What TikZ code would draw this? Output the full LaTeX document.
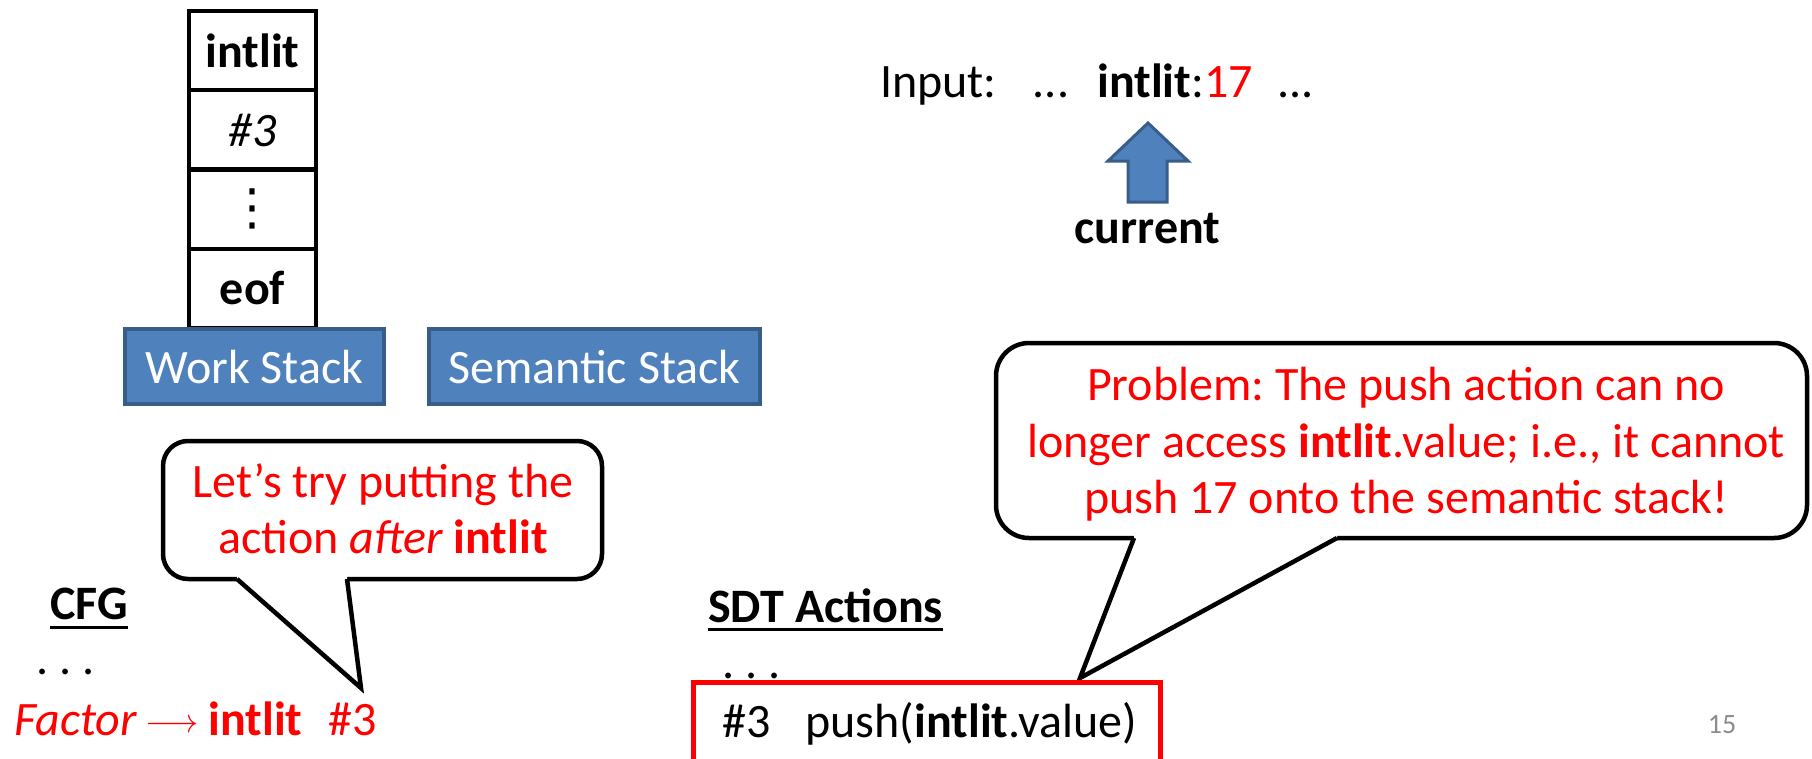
\documentclass[tikz,border=0pt]{standalone}
\usepackage{fontspec}
\setmainfont{Carlito}
\newfontfamily\dejavu{DejaVu Sans}
\definecolor{boxblue}{HTML}{4F81BD}
\definecolor{boxedge}{HTML}{385D8A}
\definecolor{slidered}{HTML}{FF0000}
\definecolor{pagegray}{HTML}{8C8C8C}
\frenchspacing
\tikzset{
  big/.style={font=\fontsize{48}{57}\selectfont, inner sep=0pt},
  cell/.style={big, draw=black, line width=4pt, minimum width=127pt, minimum height=79.25pt,
    text height=33pt, text depth=0pt},
  bluebox/.style={big, draw=boxedge, fill=boxblue, line width=4pt, text=white,
    minimum height=75pt, text height=33pt, text depth=0pt},
  callout/.style={draw=black, fill=white, line width=4.5pt},
  tailline/.style={draw=black, line width=4.5pt, line join=miter},
  redtext/.style={big, text=slidered, anchor=base},
  uline/.style={line width=3pt}
}
\newcommand{\longarr}{\raisebox{3pt}{\scalebox{3.3}[3.4]{\fontsize{10}{12}\selectfont$\longrightarrow$}}}
\begin{document}
\begin{tikzpicture}[x=1pt,y=-1pt]
\useasboundingbox (0,0) rectangle (1812,758);
\fill[white] (0,0) rectangle (1812,758);

% work stack cells
\node[cell] (c1) at (252.5,50.6) {\textbf{intlit}};
\node[cell] (c2) at (252.5,129.9) {\textit{\#3}};
\node[cell] (c3) at (252.5,209.1) {};
\node[inner sep=0pt, font=\dejavu\fontsize{50}{52}\selectfont] (vd) at (c3.center) {⋮};
\node[cell] (c4) at (252.5,288.4) {\textbf{eof}};

% stack labels
\node[bluebox, minimum width=259pt] (ws) at (254.5,366.5) {Work Stack};
\node[bluebox, minimum width=331pt] (ss) at (594.5,366.5) {Semantic Stack};

% input
\node[big, anchor=base west] (input) at (880,97)
  {Input:\hspace{36pt}...\hspace{28pt}\textbf{intlit}:\textcolor{slidered}{17}\hspace{25pt}...};
\node[big, anchor=base] (current) at (1147.5,243) {\textbf{current}};
\draw[fill=boxblue, draw=boxedge, line width=3pt, line join=miter]
  (1148,123) -- (1188,161) -- (1167,161) -- (1167,202) -- (1128,202) -- (1128,161) -- (1108,161) -- cycle;

% left callout
\draw[callout, rounded corners=25pt] (163,441) rectangle (602,579);
\fill[white] (237,574) -- (237,579) -- (361,688) -- (347,579) -- (347,574) -- cycle;
\coordinate (ltip) at (361,688);
\draw[tailline] (237,579) -- (ltip) -- (347,579);
\node[redtext] (l1) at (383,497) {Let’s try putting the};
\node[redtext] (l2) at (383,553) {action \textit{after} \textbf{intlit}};

% right callout
\draw[callout, rounded corners=33pt] (996,343) rectangle (1807,538);
\fill[white] (1134,533) -- (1134,538) -- (1080,678) -- (1337,538) -- (1337,533) -- cycle;
\coordinate (rtip) at (1080,678);
\draw[tailline] (1134,538) -- (rtip) -- (1337,538);
\node[redtext] (r1) at (1406,400) {Problem: The push action can no};
\node[redtext] (r2) at (1406,457) {longer access \textbf{intlit}.value; i.e., it cannot};
\node[redtext] (r3) at (1406,513) {push 17 onto the semantic stack!};

% CFG
\node[big, anchor=base west] (cfg) at (50,619) {\textbf{CFG}};
\draw[uline] ([yshift=-8pt]cfg.base west) -- ([yshift=-8pt]cfg.base east);
\node[big, anchor=base west] (cfgdots) at (36,674) {. . .};
\node[big, anchor=base west, text=slidered] (rule) at (14,735)
  {\textit{Factor}\hspace{8pt}\longarr\hspace{10pt}\textbf{intlit}\hspace{26pt}\#3};

% SDT
\node[big, anchor=base west] (sdt) at (708,622) {\textbf{SDT Actions}};
\draw[uline] ([yshift=-7pt]sdt.base west) -- ([yshift=-7pt]sdt.base east);
\node[big, anchor=base west] (sdtdots) at (722,678) {. . .};
\draw[draw=slidered, line width=5pt] (693,780) -- (693,682) -- (1160,682) -- (1160,780);
\node[big, anchor=base west] (action) at (722,737) {\#3\hspace{35pt}push(\textbf{intlit}.value)};

% page number
\node[font=\fontsize{28}{32}\selectfont, text=pagegray, anchor=base, inner sep=0pt] (pg) at (1722,733) {15};
\end{tikzpicture}
\end{document}
